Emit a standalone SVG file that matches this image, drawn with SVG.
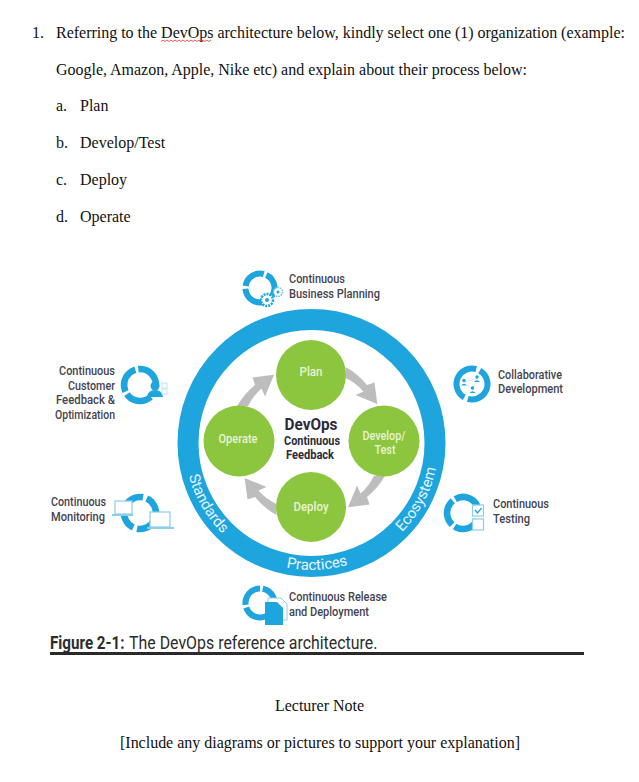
<svg xmlns="http://www.w3.org/2000/svg" xmlns:xlink="http://www.w3.org/1999/xlink" width="639" height="782" viewBox="0 0 639 782">
<style>
.doc{font-family:"Liberation Serif","Times New Roman",serif;font-size:16px;fill:#111}
.lab{font-family:Roboto,"Liberation Sans",sans-serif;font-size:13px;fill:#44444f;font-weight:500}
.in{font-family:Roboto,"Liberation Sans",sans-serif;font-size:13px;fill:#e8f3d4;font-weight:500;text-anchor:middle}
.ctr{font-family:Roboto,"Liberation Sans",sans-serif;fill:#2b2b3a;font-weight:700;text-anchor:middle}
.ringt{font-family:Roboto,"Liberation Sans",sans-serif;font-size:15px;fill:#e6f5fc;font-weight:400}
.cap{font-family:Roboto,"Liberation Sans",sans-serif;font-size:18.500px;fill:#2c2c2c}
.green{fill:#8cc63f}
.arr{fill:#bdbdbd}
.seg{fill:none;stroke:#1fa5de;stroke-width:6}
.lo{fill:#fff;stroke:#8ccdec;stroke-width:1.2}
.blue{fill:#1fa5de}
</style>
<defs>
<path id="arrow" class="arr" d="M345.700 367Q358 374 367 385L374.500 382.500L377.300 404L355.500 395L363.500 391.500Q356 383 345.700 378Z"/>
<circle id="r" class="seg" r="14.500" pathLength="100" stroke-dasharray="27 3 27 3 27 13"/>
<circle id="r2" class="seg" r="14.500" pathLength="100" stroke-dasharray="21 4 21 4 21 4 21 4"/>
<path id="bow" d="M184.500 443A127 127 0 0 0 438.500 443"/>
</defs>
<rect width="639" height="782" fill="#fff"/>
<g id="text-top">
<text class="doc" x="32" y="38">1.</text>
<text class="doc" x="56" y="38" textLength="569" lengthAdjust="spacing">Referring to the DevOps architecture below, kindly select one (1) organization (example:</text>
<path d="M161 41.500l2-1.500 2 1.500 2-1.500 2 1.500 2-1.500 2 1.500 2-1.500 2 1.500 2-1.500 2 1.500 2-1.500 2 1.500 2-1.500 2 1.500 2-1.500 2 1.500 2-1.500 2 1.500 2-1.500 2 1.500 2-1.500 2 1.500 2-1.500 2 1.500 2-1.500" fill="none" stroke="#e03030" stroke-width=".8"/>
<text class="doc" x="56" y="75" textLength="471" lengthAdjust="spacing">Google, Amazon, Apple, Nike etc) and explain about their process below:</text>
<text class="doc" x="56" y="111">a.</text><text class="doc" x="80" y="111">Plan</text>
<text class="doc" x="56" y="148">b.</text><text class="doc" x="80" y="148">Develop/Test</text>
<text class="doc" x="56" y="185">c.</text><text class="doc" x="80" y="185">Deploy</text>
<text class="doc" x="56" y="222">d.</text><text class="doc" x="80" y="222">Operate</text>
</g>
<g id="ring">
<circle cx="311.500" cy="443" r="123.500" fill="none" stroke="#1fa5de" stroke-width="21"/>
<text class="ringt"><textPath xlink:href="#bow" startOffset="33">Standards</textPath></text>
<text class="ringt"><textPath xlink:href="#bow" startOffset="174">Practices</textPath></text>
<text class="ringt"><textPath xlink:href="#bow" startOffset="300">Ecosystem</textPath></text>
</g>
<g id="connectors">
<use xlink:href="#arrow"/>
<use xlink:href="#arrow" transform="rotate(90 311 441)"/>
<use xlink:href="#arrow" transform="rotate(180 311 441)"/>
<use xlink:href="#arrow" transform="rotate(-90 311 441)"/>
</g>
<g id="plan"><circle class="green" cx="311" cy="375" r="35"/><text class="in" x="311" y="376" textLength="23" lengthAdjust="spacingAndGlyphs">Plan</text></g>
<g id="develop"><circle class="green" cx="384" cy="441" r="35.500"/><text class="in" x="384" y="440" textLength="43" lengthAdjust="spacingAndGlyphs">Develop/</text><text class="in" x="385" y="454" textLength="21" lengthAdjust="spacingAndGlyphs">Test</text></g>
<g id="deploy"><circle class="green" cx="311" cy="507" r="35"/><text class="in" x="311" y="511" textLength="35" lengthAdjust="spacingAndGlyphs">Deploy</text></g>
<g id="operate"><circle class="green" cx="239" cy="441" r="35.500"/><text class="in" x="238" y="443" textLength="39" lengthAdjust="spacingAndGlyphs">Operate</text></g>
<g id="center">
<text class="ctr" x="311" y="430" font-size="16" textLength="53" lengthAdjust="spacingAndGlyphs">DevOps</text>
<text class="ctr" x="312" y="445" font-size="12.500" textLength="56" lengthAdjust="spacingAndGlyphs">Continuous</text>
<text class="ctr" x="310" y="459" font-size="12.500" textLength="48" lengthAdjust="spacingAndGlyphs">Feedback</text>
</g>
<g id="business-planning">
<use xlink:href="#r" transform="translate(260 288) rotate(80)"/>
<circle cx="267" cy="300" r="6" fill="#fff" stroke="#1fa5de" stroke-width="2.500" stroke-dasharray="2 1"/><circle cx="267" cy="300" r="2" class="blue"/>
<circle cx="278" cy="292" r="4.500" fill="#fff" stroke="#6cc0e8" stroke-width="1.500" stroke-dasharray="1.500 1"/><circle cx="278" cy="292" r="1.500" class="blue"/>
<text class="lab" x="289" y="283" textLength="56" lengthAdjust="spacingAndGlyphs">Continuous</text>
<text class="lab" x="289" y="298" textLength="91" lengthAdjust="spacingAndGlyphs">Business Planning</text>
</g>
<g id="customer-feedback">
<use xlink:href="#r" transform="translate(140 385) rotate(48) scale(1.100)"/>
<circle cx="155" cy="386" r="4.500" class="blue"/><path class="blue" d="M147 397q1-7 8-7t8 7z"/>
<rect x="162" y="383" width="5" height="5" fill="none" stroke="#bfe3f4"/><rect x="162" y="389" width="5" height="5" fill="none" stroke="#bfe3f4"/>
<text class="lab" x="115" y="375" text-anchor="end" textLength="56" lengthAdjust="spacingAndGlyphs">Continuous</text>
<text class="lab" x="115" y="390" text-anchor="end" textLength="47" lengthAdjust="spacingAndGlyphs">Customer</text>
<text class="lab" x="115" y="404" text-anchor="end" textLength="59" lengthAdjust="spacingAndGlyphs">Feedback &amp;</text>
<text class="lab" x="115" y="419" text-anchor="end" textLength="60" lengthAdjust="spacingAndGlyphs">Optimization</text>
</g>
<g id="monitoring">
<use xlink:href="#r2" transform="translate(140 513) rotate(25) scale(1.100)"/>
<rect x="115" y="501" width="17" height="13" class="lo"/><path d="M112 515h21" stroke="#8ccdec" stroke-width="2"/>
<rect x="150" y="512" width="20" height="15" class="lo"/><path d="M147 528h27" stroke="#8ccdec" stroke-width="2"/>
<text class="lab" x="51" y="506" textLength="55" lengthAdjust="spacingAndGlyphs">Continuous</text>
<text class="lab" x="51" y="521" textLength="54" lengthAdjust="spacingAndGlyphs">Monitoring</text>
</g>
<g id="collaborative">
<circle class="seg" cx="472" cy="384" r="15.500" stroke-width="7.500" pathLength="100" stroke-dasharray="46 4 46 4" transform="rotate(-60 472 384)"/>
<path d="M465 382L477 379L472.500 390Z" fill="none" stroke="#bfe3f4" stroke-width=".7"/>
<circle class="blue" cx="464" cy="380.500" r="1.700"/><path class="blue" d="M461 385.500q3-3.500 6 0z"/>
<circle class="blue" cx="477" cy="377" r="1.700"/><path class="blue" d="M474 382q3-3.500 6 0z"/>
<circle class="blue" cx="472.500" cy="388" r="1.700"/><path class="blue" d="M469.500 393q3-3.500 6 0z"/>
<text class="lab" x="498" y="379" textLength="64" lengthAdjust="spacingAndGlyphs">Collaborative</text>
<text class="lab" x="498" y="393" textLength="65" lengthAdjust="spacingAndGlyphs">Development</text>
</g>
<g id="testing">
<use xlink:href="#r" transform="translate(463 513) rotate(25) scale(1.100)"/>
<rect x="472.500" y="505" width="11" height="11" class="lo"/><path d="M475 510l2.500 3 4-5" fill="none" stroke="#1fa5de" stroke-width="1.300"/>
<rect x="472.500" y="519" width="11" height="11" class="lo"/>
<text class="lab" x="493" y="508" textLength="56" lengthAdjust="spacingAndGlyphs">Continuous</text>
<text class="lab" x="493" y="523" textLength="37" lengthAdjust="spacingAndGlyphs">Testing</text>
</g>
<g id="release">
<use xlink:href="#r" transform="translate(260 603) rotate(65)"/>
<path d="M268 598h13l6 6v16h-19z" fill="#fff" stroke="#8ccdec"/>
<path class="blue" d="M265 602h12l6 6v17h-18z"/>
<text class="lab" x="289" y="601" textLength="98" lengthAdjust="spacingAndGlyphs">Continuous Release</text>
<text class="lab" x="289" y="616" textLength="80" lengthAdjust="spacingAndGlyphs">and Deployment</text>
</g>
<g id="caption">
<text class="cap" transform="translate(50 649) scale(.82 1)" font-weight="700">Figure 2-1:</text>
<text class="cap" transform="translate(129 649) scale(.86 1)" font-weight="400">The DevOps reference architecture.</text>
<rect x="50" y="652" width="534" height="3" fill="#2a2a2a"/>
</g>
<g id="text-bottom">
<text class="doc" x="275" y="711" textLength="89" lengthAdjust="spacing">Lecturer Note</text>
<text class="doc" x="120" y="748" textLength="400" lengthAdjust="spacing">[Include any diagrams or pictures to support your explanation]</text>
</g>
</svg>
